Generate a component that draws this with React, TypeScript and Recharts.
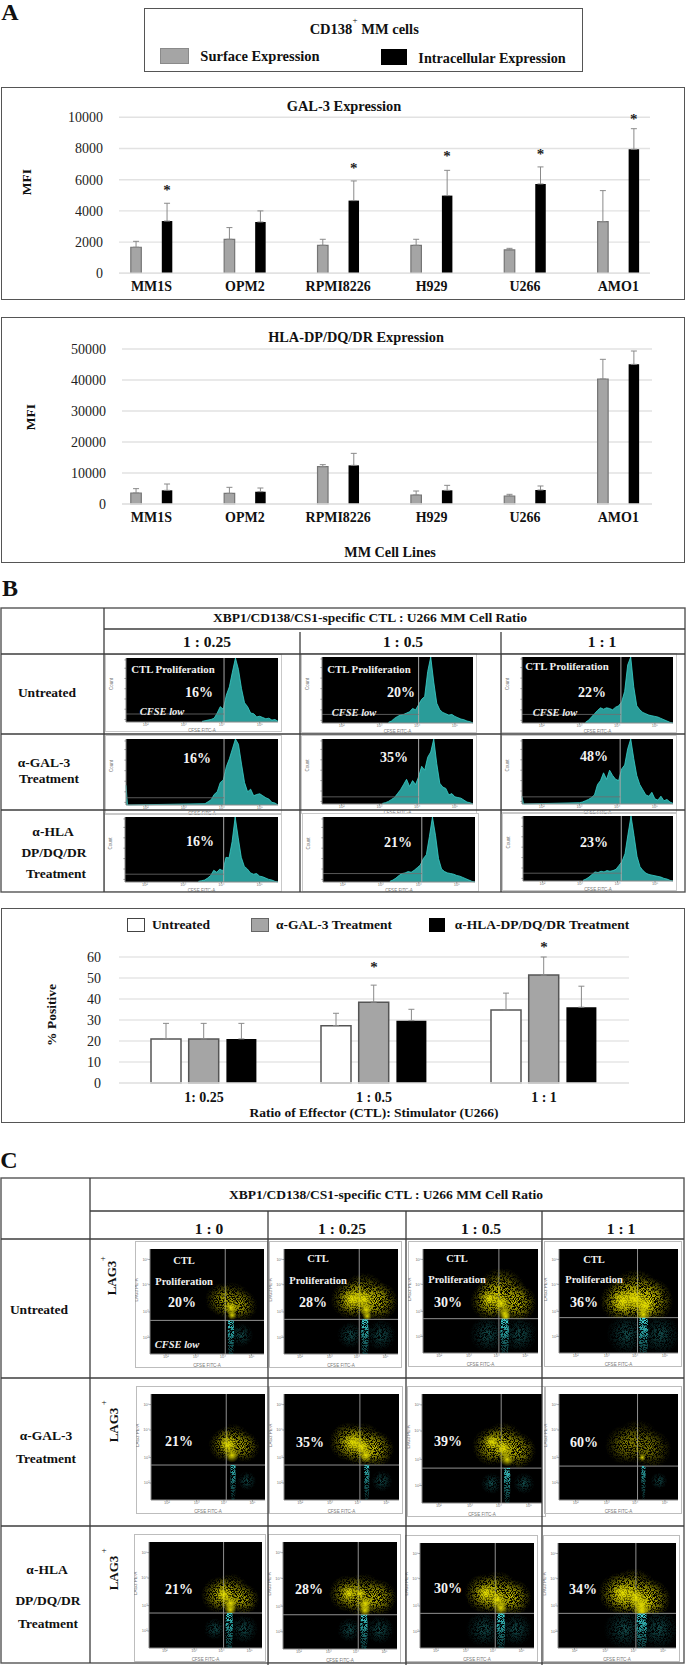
import * as React from "react";
import {
  Area,
  AreaChart,
  Bar,
  BarChart,
  CartesianGrid,
  ErrorBar,
  ReferenceDot,
  ReferenceLine,
  Scatter,
  ScatterChart,
  XAxis,
  YAxis,
} from "recharts";

const SERIF = "'Liberation Serif', serif";

/* ---------- panel A data ---------- */
const cellLines = ["MM1S", "OPM2", "RPMI8226", "H929", "U266", "AMO1"];

const galSurface = [1670, 2180, 1795, 1795, 1500, 3310];
const galSurfaceErr = [380, 750, 385, 385, 100, 1990];
const galIntra = [3350, 3290, 4660, 4980, 5730, 7950];
const galIntraErr = [1140, 710, 1260, 1620, 1090, 1320];
const galStars = [5450, null, 6880, 7630, 7800, 10040];
const galTicks = [0, 2000, 4000, 6000, 8000, 10000];

const hlaSurface = [3550, 3440, 12040, 2900, 2580, 40320];
const hlaSurfaceErr = [1400, 1940, 650, 1290, 540, 6350];
const hlaIntra = [4410, 3980, 12470, 4410, 4520, 45050];
const hlaIntraErr = [2040, 1180, 3870, 1610, 1290, 4300];
const hlaTicks = [0, 10000, 20000, 30000, 40000, 50000];

/* ---------- panel B bars ---------- */
const ratios = ["1: 0.25", "1 : 0.5", "1 : 1"];
const untreated = [21, 27.3, 34.8];
const untreatedErr = [7.4, 5.9, 8];
const antiGal = [21, 38.5, 51.4];
const antiGalErr = [7.4, 8.1, 8.6];
const antiHla = [21, 29.7, 36.1];
const antiHlaErr = [7.4, 5.4, 10];
const ratioStars = [null, 56, 65.9];
const pctTicks = [0, 10, 20, 30, 40, 50, 60];

/* ---------- panel B histograms: counts in 2% bins from histStart ---------- */
const histStart = [50, 44, 42, 52, 40, 38, 48, 44, 40];
const histSpike = [0, 0, 0, 30, 0, 12, 0, 0, 0];
const histCounts = [
  [1, 2, 3, 4, 6, 14, 24, 20, 42, 55, 78, 100, 82, 52, 30, 24, 14, 13, 8, 9, 7, 5, 6, 3, 4, 1],
  [1, 3, 7, 10, 12, 13, 15, 17, 22, 20, 28, 36, 40, 78, 100, 62, 30, 20, 16, 14, 12, 13, 10, 8, 6, 5, 3, 2, 0],
  [1, 4, 9, 14, 19, 23, 21, 23, 22, 20, 24, 26, 32, 48, 88, 100, 55, 26, 20, 16, 14, 12, 11, 10, 9, 7, 5, 3, 1, 0],
  [2, 5, 8, 16, 20, 34, 38, 58, 70, 85, 100, 92, 62, 34, 20, 24, 14, 16, 17, 14, 11, 9, 4, 3, 0],
  [1, 2, 4, 7, 10, 16, 22, 30, 38, 27, 36, 30, 42, 58, 52, 72, 80, 100, 62, 32, 26, 24, 14, 16, 11, 10, 9, 6, 3, 2, 0],
  [2, 3, 5, 7, 10, 14, 30, 36, 48, 38, 52, 44, 38, 36, 54, 60, 85, 100, 70, 44, 30, 22, 14, 12, 18, 8, 6, 12, 5, 7, 3, 1],
  [1, 2, 3, 6, 10, 18, 15, 20, 17, 38, 37, 62, 100, 68, 38, 24, 20, 14, 12, 13, 9, 8, 6, 4, 3, 1, 0],
  [1, 3, 6, 10, 13, 14, 16, 15, 18, 22, 26, 36, 42, 70, 100, 72, 36, 20, 16, 14, 13, 12, 10, 9, 7, 5, 3, 1, 0],
  [1, 3, 6, 10, 14, 13, 15, 14, 16, 15, 16, 18, 24, 30, 42, 72, 100, 70, 38, 22, 16, 12, 10, 9, 8, 7, 6, 4, 3, 1, 0],
];
const histGateX = [64.5, 64, 65.5, 64.5, 64, 65, 64.5, 65, 65.5];
const histGateY = [12.5, 13, 13, 11, 11, 11, 12, 13, 12];
const histPct = ["16%", "20%", "22%", "16%", "35%", "48%", "16%", "21%", "23%"];

/* ---------- panel C dot plots: [x %, y %, spread] ---------- */
type Blob = [number, number, number];
const dotClouds: Blob[][] = [
  [[63, 52, 12], [72, 50, 14], [81, 46, 11]],
  [[58, 52, 14], [70, 55, 17], [83, 50, 14]],
  [[58, 50, 14], [68, 58, 18], [82, 48, 14]],
  [[52, 50, 15], [64, 55, 19], [76, 50, 17]],
  [[65, 52, 12], [72, 55, 13], [82, 50, 11]],
  [[56, 55, 14], [68, 52, 16], [80, 48, 13]],
  [[58, 52, 14], [68, 55, 15], [80, 48, 13]],
  [[55, 52, 14], [66, 55, 16], [78, 48, 14]],
  [[62, 50, 13], [72, 52, 14], [84, 46, 11]],
  [[56, 52, 13], [70, 50, 16], [84, 48, 13]],
  [[56, 52, 14], [68, 52, 16], [82, 48, 13]],
  [[52, 52, 15], [64, 52, 18], [78, 46, 15]],
];
const dotCores: Blob[][] = [
  [[71, 44, 6], [72, 37, 4]],
  [[60, 52, 9], [70, 52, 9], [72, 42, 6], [73, 36, 4]],
  [[58, 52, 7], [68, 48, 8], [71, 38, 6], [72, 35, 4]],
  [[54, 50, 10], [64, 52, 10], [72, 46, 9], [71, 37, 6]],
  [[68, 52, 8], [71, 42, 6]],
  [[60, 54, 9], [68, 50, 8], [71, 42, 6]],
  [[58, 56, 7], [68, 50, 8], [71, 40, 6]],
  [[70, 40, 3]],
  [[66, 50, 7], [72, 42, 7], [72, 36, 5]],
  [[58, 52, 7], [68, 52, 5], [72, 42, 7], [72, 36, 5]],
  [[58, 52, 8], [68, 46, 8], [71, 38, 6]],
  [[55, 52, 9], [66, 48, 9], [71, 40, 9], [71, 35, 6]],
];
// narrow streak under the gate, read as one column per plot: [x %, y %, half width]
const dotStreaks: Blob[][] = [
  [[71, 18, 3]],
  [[71, 18, 3.5]],
  [[71, 18, 4]],
  [[71, 18, 4.5]],
  [[72, 22, 2.5]],
  [[72, 22, 2.5]],
  [[71, 20, 3]],
  [[71, 24, 2]],
  [[71, 18, 3.5]],
  [[71, 18, 3.5]],
  [[71, 18, 4]],
  [[71, 18, 5]],
];
const dotCyan: Blob[][] = [
  [[80, 18, 10]],
  [[85, 18, 13], [58, 18, 11]],
  [[84, 18, 15], [56, 18, 15]],
  [[57, 18, 17], [85, 18, 17]],
  [[84, 18, 8]],
  [[85, 18, 9]],
  [[58, 18, 9], [85, 18, 9]],
  [[84, 18, 7]],
  [[84, 18, 12], [58, 18, 9]],
  [[85, 18, 12], [58, 18, 10]],
  [[56, 18, 15], [84, 18, 14]],
  [[56, 18, 17], [85, 18, 17]],
];
const dotStrength = [0.62, 0.85, 0.9, 1, 0.7, 0.85, 0.85, 0.5, 0.78, 0.82, 0.88, 0.95];
const dotGateX = [66, 66, 66, 66, 66, 66, 66, 66, 66, 66, 66, 66];
const dotGateY = [32, 33, 33, 34, 33, 33, 32, 32, 33, 32, 33, 33];
const dotPct = ["20%", "28%", "30%", "36%", "21%", "35%", "39%", "60%", "21%", "28%", "30%", "34%"];

/* ---------- layout of the small plots: left, top, width, height of the black area ---------- */
const histRects = [
  [126, 658, 152, 64], [322, 657, 151, 66], [522, 657, 151, 66],
  [126, 739, 152, 66], [322, 739, 151, 65], [522, 739, 151, 65],
  [125, 817, 153, 65], [323, 817, 152, 65], [523, 816, 150, 65],
];
const histPctPos = [
  [199, 693], [401, 693], [592, 693],
  [197, 759], [394, 758], [594, 757],
  [200, 842], [398, 843], [594, 843],
];
const dotRects = [
  [150, 1249, 114, 105], [284, 1249, 114, 105], [423, 1249, 115, 104], [559, 1249, 119, 104],
  [151, 1394, 114, 106], [284, 1394, 115, 106], [422, 1394, 120, 109], [559, 1394, 119, 106],
  [149, 1542, 113, 106], [283, 1542, 114, 107], [420, 1543, 114, 105], [558, 1543, 118, 105],
];
const dotPctPos = [
  [182, 1303], [313, 1303], [448, 1303], [584, 1303],
  [179, 1442], [310, 1443], [448, 1442], [584, 1443],
  [179, 1590], [309, 1590], [448, 1589], [583, 1590],
];
const DOT_PAD = { left: 15, right: 4, top: 8, bottom: 14 };

const powerLabels = ["10²", "10³", "10⁴", "10⁵"];
const histXTicks = [13, 38, 63, 88];
const histYTicks = [4, 20, 36, 52, 68, 84, 97];
const dotXTicks = [14, 40, 64, 89];
const dotYTicks = [16, 40, 66, 90];

function T({ x, y, size = 13.5, bold = true, italic = false, color = "#111", rotate = 0, children }: any) {
  return (
    <div
      style={{
        position: "absolute",
        left: x,
        top: y,
        transform: `translate(-50%, -50%) rotate(${rotate}deg)`,
        fontFamily: SERIF,
        fontSize: size,
        fontWeight: bold ? 700 : 400,
        fontStyle: italic ? "italic" : "normal",
        color,
        whiteSpace: "nowrap",
        lineHeight: 1,
      }}
    >
      {children}
    </div>
  );
}

function Rule({ x1, y1, x2, y2, color = "#3c3c3c", w = 1.3 }: any) {
  return <line x1={x1} y1={y1} x2={x2} y2={y2} stroke={color} strokeWidth={w} />;
}

function Swatch({ x, y, w, h, fill, stroke }: any) {
  return (
    <div
      style={{
        position: "absolute",
        left: x,
        top: y,
        width: w,
        height: h,
        boxSizing: "border-box",
        background: fill,
        border: `1.5px solid ${stroke}`,
      }}
    />
  );
}

function Frame({ x, y, w, h, color = "#555", bw = 1.5 }: any) {
  return (
    <div
      style={{
        position: "absolute",
        left: x,
        top: y,
        width: w,
        height: h,
        boxSizing: "border-box",
        border: `${bw}px solid ${color}`,
      }}
    />
  );
}

const starShape = (dx: number) => (p: any) => (
  <text x={p.cx + dx} y={p.cy + 7} textAnchor="middle" fontFamily={SERIF} fontSize={15} fontWeight={700} fill="#222">
    *
  </text>
);

const valueTick = { fontFamily: SERIF, fontSize: 14, fill: "#222" };
const categoryTick = { fontFamily: SERIF, fontSize: 14, fontWeight: 700, fill: "#111" };

function ExpressionChart({ top, plotTop, plotH, left, right, ticks, max, surface, surfaceErr, intra, intraErr, stars }: any) {
  const data = cellLines.map((name, i) => ({
    name,
    surface: surface[i],
    surfaceErr: [0, surfaceErr[i]],
    intra: intra[i],
    intraErr: [0, intraErr[i]],
  }));
  // the columns run a little past the gridlines on both sides
  const bandLeft = 104.8;
  const bandRight = 665;
  return (
    <div style={{ position: "absolute", left: 0, top }}>
      <BarChart
        width={686}
        height={plotTop - top + plotH + 36}
        data={data}
        margin={{ top: plotTop - top, right: 686 - right, bottom: 8, left: 0 }}
        barSize={10.5}
        barGap={20.5}
      >
        <CartesianGrid vertical={false} stroke="#e2e2e2" strokeWidth={1.4} />
        <XAxis
          dataKey="name"
          interval={0}
          tick={categoryTick}
          tickLine={false}
          axisLine={{ stroke: "#e2e2e2", strokeWidth: 1.4 }}
          tickMargin={2}
          height={28}
          padding={{ left: bandLeft - left, right: right - bandRight }}
        />
        <YAxis
          width={left}
          domain={[0, max]}
          ticks={ticks}
          interval={0}
          tick={valueTick}
          tickLine={false}
          axisLine={false}
          tickMargin={10}
        />
        <Bar dataKey="surface" fill="#a5a5a5" stroke="#757575" strokeWidth={1.2} isAnimationActive={false}>
          <ErrorBar dataKey="surfaceErr" direction="y" width={3} stroke="#8a8a8a" strokeWidth={1} isAnimationActive={false} />
        </Bar>
        <Bar dataKey="intra" fill="#000" isAnimationActive={false}>
          <ErrorBar dataKey="intraErr" direction="y" width={3} stroke="#8a8a8a" strokeWidth={1} isAnimationActive={false} />
        </Bar>
        {stars &&
          stars.map((s: number | null, i: number) =>
            s === null ? null : (
              <ReferenceDot key={i} x={cellLines[i]} y={s} ifOverflow="visible" shape={starShape(15.5)} />
            )
          )}
      </BarChart>
    </div>
  );
}

function RatioChart() {
  const data = ratios.map((name, i) => ({
    name,
    a: untreated[i],
    aErr: [0, untreatedErr[i]],
    b: antiGal[i],
    bErr: [0, antiGalErr[i]],
    c: antiHla[i],
    cErr: [0, antiHlaErr[i]],
  }));
  return (
    <div style={{ position: "absolute", left: 0, top: 940 }}>
      <BarChart
        width={686}
        height={174}
        data={data}
        margin={{ top: 17, right: 57, bottom: 3, left: 0 }}
        barSize={30}
        barGap={7.7}
      >
        <CartesianGrid vertical={false} stroke="#e6e6e6" strokeWidth={1.6} />
        <XAxis
          dataKey="name"
          interval={0}
          tick={categoryTick}
          tickLine={false}
          axisLine={{ stroke: "#e6e6e6", strokeWidth: 1.6 }}
          tickMargin={3}
          height={28}
        />
        <YAxis
          width={119}
          domain={[0, 60]}
          ticks={pctTicks}
          interval={0}
          tick={valueTick}
          tickLine={false}
          axisLine={false}
          tickMargin={12}
        />
        <Bar dataKey="a" fill="#fff" stroke="#555" strokeWidth={1.5} isAnimationActive={false}>
          <ErrorBar dataKey="aErr" direction="y" width={3} stroke="#8a8a8a" strokeWidth={1} isAnimationActive={false} />
        </Bar>
        <Bar dataKey="b" fill="#a5a5a5" stroke="#555" strokeWidth={1.5} isAnimationActive={false}>
          <ErrorBar dataKey="bErr" direction="y" width={3} stroke="#8a8a8a" strokeWidth={1} isAnimationActive={false} />
        </Bar>
        <Bar dataKey="c" fill="#000" isAnimationActive={false}>
          <ErrorBar dataKey="cErr" direction="y" width={3} stroke="#8a8a8a" strokeWidth={1} isAnimationActive={false} />
        </Bar>
        {ratioStars.map((s, i) =>
          s === null ? null : (
            <ReferenceDot key={i} x={ratios[i]} y={s} ifOverflow="visible" shape={starShape(0)} />
          )
        )}
      </BarChart>
    </div>
  );
}

const tinyTick = { fontFamily: "'Liberation Sans', sans-serif", fontSize: 4, fill: "#777" };
const tinyLabel = { fontFamily: "'Liberation Sans', sans-serif", fontSize: 4.5, fill: "#777" };

function Histogram({ index }: { index: number }) {
  const [x, y, w, h] = histRects[index];
  const pad = { left: 21, right: 4, top: 4, bottom: 10 };
  const spike = histSpike[index] ? [{ x: 0, y: histSpike[index] }, { x: 1, y: 0 }] : [];
  const data = [...spike, ...histCounts[index].map((c, i) => ({ x: histStart[index] + i * 2, y: c }))];
  return (
    <div style={{ position: "absolute", left: x - pad.left, top: y - pad.top }}>
      <div
        style={{
          position: "absolute",
          left: 0,
          top: 0,
          width: w + pad.left + pad.right,
          height: h + pad.top + pad.bottom,
          boxSizing: "border-box",
          border: "1px solid #c9c9c9",
        }}
      />
      <AreaChart
        width={w + pad.left + pad.right}
        height={h + pad.top + pad.bottom}
        data={data}
        margin={{ top: pad.top, right: pad.right, bottom: 0, left: 0 }}
      >
        <CartesianGrid fill="#000" stroke="none" horizontal={false} vertical={false} />
        <XAxis
          dataKey="x"
          type="number"
          domain={[0, 100]}
          ticks={histXTicks}
          interval={0}
          tickFormatter={(_v, i) => powerLabels[i]}
          tick={tinyTick}
          tickSize={1.5}
          tickMargin={0}
          stroke="#888"
          height={pad.bottom}
          label={{ value: "CFSE FITC-A", position: "insideBottom", offset: 0, style: tinyLabel }}
        />
        <YAxis
          width={pad.left}
          domain={[0, 100]}
          ticks={histYTicks}
          interval={0}
          tickFormatter={() => ""}
          tick={tinyTick}
          tickSize={1.5}
          stroke="#888"
          label={{ value: "Count", angle: -90, position: "insideLeft", offset: 6, style: tinyLabel }}
        />
        <Area
          type="linear"
          dataKey="y"
          stroke="#38d2cb"
          strokeWidth={0.8}
          fill="#2a9c99"
          fillOpacity={1}
          dot={false}
          isAnimationActive={false}
        />
        <ReferenceLine x={histGateX[index]} stroke="#a8a8a8" strokeWidth={1} />
        <ReferenceLine
          segment={[{ x: 0, y: histGateY[index] }, { x: histGateX[index], y: histGateY[index] }]}
          stroke="#6e6e6e"
          strokeWidth={0.8}
        />
      </AreaChart>
    </div>
  );
}

const toPoints = (list: Blob[]) => list.map(([x, y, z]) => ({ x, y, z }));

function DotPlot({ index }: { index: number }) {
  const [x, y, w, h] = dotRects[index];
  const pad = DOT_PAD;
  const above = `url(#above${index})`;
  const below = `url(#below${index})`;
  return (
    <div style={{ position: "absolute", left: x - pad.left, top: y - pad.top }}>
      <div
        style={{
          position: "absolute",
          left: 0,
          top: 0,
          width: w + pad.left + pad.right,
          height: h + pad.top + pad.bottom,
          boxSizing: "border-box",
          border: "1px solid #bdbdbd",
        }}
      />
      <ScatterChart
        width={w + pad.left + pad.right}
        height={h + pad.top + pad.bottom}
        margin={{ top: pad.top, right: pad.right, bottom: 0, left: 0 }}
      >
        <CartesianGrid fill="#000" stroke="none" horizontal={false} vertical={false} />
        <XAxis
          dataKey="x"
          type="number"
          domain={[0, 100]}
          ticks={dotXTicks}
          interval={0}
          tickFormatter={(_v, i) => powerLabels[i]}
          tick={tinyTick}
          tickSize={1.5}
          tickMargin={0}
          stroke="#888"
          height={pad.bottom}
          label={{ value: "CFSE FITC-A", position: "insideBottom", offset: 1, style: tinyLabel }}
        />
        <YAxis
          dataKey="y"
          type="number"
          width={pad.left}
          domain={[0, 100]}
          ticks={dotYTicks}
          interval={0}
          tickFormatter={(_v, i) => powerLabels[i]}
          tick={tinyTick}
          tickSize={1.5}
          tickMargin={0}
          stroke="#888"
          label={{ value: "LAG3 PE-A", angle: -90, position: "insideLeft", offset: 1, style: tinyLabel }}
        />
        <Scatter
          data={toPoints(dotCyan[index])}
          isAnimationActive={false}
          shape={(p: any) => (
            <g clipPath={below}>
              <circle cx={p.cx} cy={p.cy} r={p.payload.z * 1.2} fill="url(#cyanGlow)" fillOpacity={0.38} filter="url(#grain)" />
            </g>
          )}
        />
        <Scatter
          data={toPoints(dotStreaks[index])}
          isAnimationActive={false}
          shape={(p: any) => (
            <g clipPath={below}>
              <ellipse cx={p.cx} cy={p.cy} rx={p.payload.z * 1.05} ry={28} fill="url(#cyanStreak)" filter="url(#grain)" />
            </g>
          )}
        />
        <Scatter
          data={toPoints(dotClouds[index])}
          isAnimationActive={false}
          shape={(p: any) => (
            <g clipPath={above}>
              <circle cx={p.cx} cy={p.cy} r={p.payload.z * 1.4} fill="url(#yellowGlow)" fillOpacity={dotStrength[index]} filter="url(#grain)" />
            </g>
          )}
        />
        <Scatter
          data={toPoints(dotCores[index])}
          isAnimationActive={false}
          shape={(p: any) => (
            <g clipPath={above}>
              <circle cx={p.cx} cy={p.cy} r={p.payload.z * 1.2} fill="url(#yellowCore)" />
            </g>
          )}
        />
        <ReferenceLine x={dotGateX[index]} stroke="#a0a0a0" strokeWidth={0.9} />
        <ReferenceLine y={dotGateY[index]} stroke="#a0a0a0" strokeWidth={0.9} />
      </ScatterChart>
    </div>
  );
}

function Defs() {
  return (
    <svg width={0} height={0} style={{ position: "absolute" }}>
      <defs>
        <radialGradient id="yellowGlow">
          <stop offset="0%" stopColor="#efe700" stopOpacity={0.9} />
          <stop offset="50%" stopColor="#cfc900" stopOpacity={0.55} />
          <stop offset="100%" stopColor="#8f8a00" stopOpacity={0} />
        </radialGradient>
        <radialGradient id="yellowCore">
          <stop offset="0%" stopColor="#f0e900" stopOpacity={0.9} />
          <stop offset="100%" stopColor="#c9c300" stopOpacity={0} />
        </radialGradient>
        <radialGradient id="cyanGlow">
          <stop offset="0%" stopColor="#38dcdc" stopOpacity={0.95} />
          <stop offset="100%" stopColor="#1f9fa3" stopOpacity={0} />
        </radialGradient>
        <linearGradient id="cyanStreak" x1="0" y1="0.2" x2="0" y2="1">
          <stop offset="0%" stopColor="#45e6e6" stopOpacity={1} />
          <stop offset="100%" stopColor="#1f9fa3" stopOpacity={0.1} />
        </linearGradient>
        <filter id="grain" x="-20%" y="-20%" width="140%" height="140%" colorInterpolationFilters="sRGB">
          <feTurbulence type="fractalNoise" baseFrequency="1.8" numOctaves={1} seed={3} result="n" />
          <feColorMatrix in="n" type="matrix" values="0 0 0 0 0  0 0 0 0 0  0 0 0 0 0  6 0 0 0 -2.4" result="mask" />
          <feComposite in="SourceGraphic" in2="mask" operator="in" />
        </filter>
        {dotRects.map(([, , , h], i) => {
          const gate = DOT_PAD.top + ((100 - dotGateY[i]) / 100) * h;
          return (
            <React.Fragment key={i}>
              <clipPath id={`above${i}`} clipPathUnits="userSpaceOnUse">
                <rect x={0} y={0} width={300} height={gate} />
              </clipPath>
              <clipPath id={`below${i}`} clipPathUnits="userSpaceOnUse">
                <rect x={0} y={gate} width={300} height={h + DOT_PAD.top - gate} />
              </clipPath>
            </React.Fragment>
          );
        })}
      </defs>
    </svg>
  );
}

export default function App() {
  return (
    <div style={{ position: "absolute", left: 0, top: 0, width: 686, height: 1665, background: "#fff", overflow: "hidden" }}>
      <Defs />

      {/* A */}
      <T x={10} y={12} size={24}>A</T>
      <Frame x={144} y={8} w={439} h={64} />
      <T x={331} y={29} size={14.5}>CD138</T>
      <T x={355} y={20} size={9} bold={false}>+</T>
      <T x={390} y={29} size={14.5}>MM cells</T>
      <Swatch x={160} y={48} w={29} h={16} fill="#a5a5a5" stroke="#8a8a8a" />
      <T x={260} y={56} size={14.5}>Surface Expression</T>
      <Swatch x={381} y={49} w={26} h={16} fill="#000" stroke="#000" />
      <T x={492} y={58} size={14.2}>Intracellular Expression</T>

      <Frame x={1} y={87} w={684} h={213} />
      <ExpressionChart
        top={100}
        plotTop={117.3}
        plotH={156}
        left={119}
        right={650}
        ticks={galTicks}
        max={10000}
        surface={galSurface}
        surfaceErr={galSurfaceErr}
        intra={galIntra}
        intraErr={galIntraErr}
        stars={galStars}
      />
      <T x={344} y={106} size={14.4}>GAL-3 Expression</T>
      <T x={27} y={182} rotate={-90}>MFI</T>

      <Frame x={1} y={317} w={684} h={246} />
      <ExpressionChart
        top={330}
        plotTop={349}
        plotH={155}
        left={122}
        right={652}
        ticks={hlaTicks}
        max={50000}
        surface={hlaSurface}
        surfaceErr={hlaSurfaceErr}
        intra={hlaIntra}
        intraErr={hlaIntraErr}
      />
      <T x={356} y={337} size={14.3}>HLA-DP/DQ/DR Expression</T>
      <T x={31} y={417} rotate={-90}>MFI</T>
      <T x={390} y={552} size={14.2}>MM Cell Lines</T>

      {/* B */}
      <T x={10} y={588} size={24}>B</T>
      {histRects.map((_, i) => <Histogram key={i} index={i} />)}

      <svg width={686} height={1665} style={{ position: "absolute", left: 0, top: 0, pointerEvents: "none" }}>
        <rect x={1} y={608} width={684} height={284} fill="none" stroke="#555" strokeWidth={1.4} />
        <Rule x1={104} y1={608} x2={104} y2={892} />
        <Rule x1={104} y1={629} x2={685} y2={629} />
        <Rule x1={1} y1={654} x2={685} y2={654} />
        <Rule x1={1} y1={734} x2={685} y2={734} />
        <Rule x1={1} y1={810} x2={685} y2={810} />
        <Rule x1={300} y1={632} x2={300} y2={892} />
        <Rule x1={501} y1={632} x2={501} y2={892} />
      </svg>

      <T x={370} y={618}>XBP1/CD138/CS1-specific CTL : U266 MM Cell Ratio</T>
      <T x={207} y={642} size={15.5}>1 : 0.25</T>
      <T x={403} y={642} size={15.5}>1 : 0.5</T>
      <T x={602} y={642} size={15.5}>1 : 1</T>
      <T x={47} y={693}>Untreated</T>
      <T x={44} y={763}>α-GAL-3</T>
      <T x={49} y={779}>Treatment</T>
      <T x={53} y={832}>α-HLA</T>
      <T x={54} y={853}>DP/DQ/DR</T>
      <T x={56} y={874}>Treatment</T>
      {histPct.map((p, i) => (
        <T key={i} x={histPctPos[i][0]} y={histPctPos[i][1]} size={14} color="#f4f4f4">{p}</T>
      ))}
      <T x={173} y={669} size={10.8} color="#f0f0f0">CTL Proliferation</T>
      <T x={369} y={669} size={10.8} color="#f0f0f0">CTL Proliferation</T>
      <T x={567} y={666} size={10.8} color="#f0f0f0">CTL Proliferation</T>
      <T x={162} y={712} size={10.5} italic color="#f0f0f0">CFSE low</T>
      <T x={354} y={713} size={10.5} italic color="#f0f0f0">CFSE low</T>
      <T x={555} y={713} size={10.5} italic color="#f0f0f0">CFSE low</T>

      {/* B bars */}
      <Frame x={1} y={908} w={684} h={215} />
      <RatioChart />
      <Swatch x={127} y={918} w={18} h={14} fill="#fff" stroke="#444" />
      <T x={181} y={925}>Untreated</T>
      <Swatch x={251} y={918} w={18} h={14} fill="#a5a5a5" stroke="#666" />
      <T x={334} y={925}>α-GAL-3 Treatment</T>
      <Swatch x={429} y={918} w={16} h={14} fill="#000" stroke="#000" />
      <T x={542} y={925}>α-HLA-DP/DQ/DR Treatment</T>
      <T x={52} y={1015} rotate={-90}>% Positive</T>
      <T x={374} y={1113}>Ratio of Effector (CTL): Stimulator (U266)</T>

      {/* C */}
      <T x={9} y={1160} size={24}>C</T>
      {dotRects.map((_, i) => <DotPlot key={i} index={i} />)}
      <svg width={686} height={1665} style={{ position: "absolute", left: 0, top: 0, pointerEvents: "none" }}>
        <rect x={1} y={1178} width={683} height={485} fill="none" stroke="#555" strokeWidth={1.4} />
        <Rule x1={90} y1={1178} x2={90} y2={1663} />
        <Rule x1={90} y1={1211} x2={684} y2={1211} />
        <Rule x1={268} y1={1211} x2={268} y2={1665} />
        <Rule x1={406} y1={1211} x2={406} y2={1665} />
        <Rule x1={542} y1={1211} x2={542} y2={1665} />
        <Rule x1={1} y1={1239} x2={684} y2={1239} />
        <Rule x1={1} y1={1378} x2={684} y2={1378} />
        <Rule x1={1} y1={1526} x2={684} y2={1526} />
      </svg>
      <T x={386} y={1195}>XBP1/CD138/CS1-specific CTL : U266 MM Cell Ratio</T>
      <T x={209} y={1229} size={15.5}>1 : 0</T>
      <T x={342} y={1229} size={15.5}>1 : 0.25</T>
      <T x={481} y={1229} size={15.5}>1 : 0.5</T>
      <T x={621} y={1229} size={15.5}>1 : 1</T>
      <T x={39} y={1310}>Untreated</T>
      <T x={46} y={1436}>α-GAL-3</T>
      <T x={46} y={1459}>Treatment</T>
      <T x={47} y={1570}>α-HLA</T>
      <T x={48} y={1601}>DP/DQ/DR</T>
      <T x={48} y={1624}>Treatment</T>
      <T x={111} y={1278} size={13} rotate={-90}>LAG3</T>
      <T x={103} y={1258} size={9} bold={false}>+</T>
      <T x={113} y={1425} size={13} rotate={-90}>LAG3</T>
      <T x={104} y={1402} size={9} bold={false}>+</T>
      <T x={113} y={1573} size={13} rotate={-90}>LAG3</T>
      <T x={104} y={1550} size={9} bold={false}>+</T>
      <T x={184} y={1261} size={10.5} color="#f0f0f0">CTL</T>
      <T x={184} y={1282} size={10.5} color="#f0f0f0">Proliferation</T>
      <T x={177} y={1345} size={10.5} italic color="#f0f0f0">CFSE low</T>
      <T x={318} y={1259} size={10.5} color="#f0f0f0">CTL</T>
      <T x={318} y={1281} size={10.5} color="#f0f0f0">Proliferation</T>
      <T x={457} y={1259} size={10.5} color="#f0f0f0">CTL</T>
      <T x={457} y={1280} size={10.5} color="#f0f0f0">Proliferation</T>
      <T x={594} y={1260} size={10.5} color="#f0f0f0">CTL</T>
      <T x={594} y={1280} size={10.5} color="#f0f0f0">Proliferation</T>
      {dotPct.map((p, i) => (
        <T key={i} x={dotPctPos[i][0]} y={dotPctPos[i][1]} size={14} color="#f4f4f4">{p}</T>
      ))}
    </div>
  );
}
